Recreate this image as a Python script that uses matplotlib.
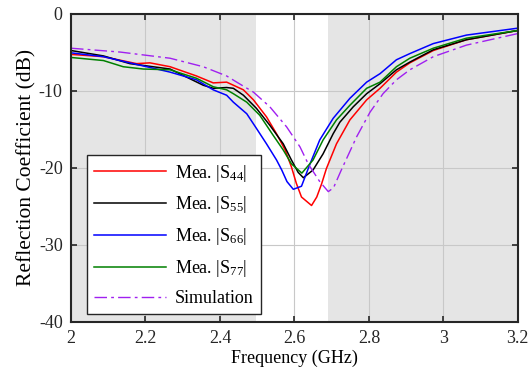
import matplotlib
matplotlib.use("Agg")
import matplotlib.pyplot as plt

plt.rcParams['font.family'] = ['Liberation Serif', 'DejaVu Serif']
plt.rcParams['mathtext.fontset'] = 'custom'
plt.rcParams['mathtext.rm'] = 'Liberation Serif'
plt.rcParams['mathtext.it'] = 'Liberation Serif:italic'
plt.rcParams['axes.unicode_minus'] = False

f_s44 = [2.0, 2.087, 2.176, 2.212, 2.266, 2.337, 2.382, 2.418, 2.427, 2.463, 2.49, 2.525, 2.552,
         2.575, 2.592, 2.605, 2.619, 2.646, 2.66, 2.673, 2.686, 2.713, 2.749, 2.794, 2.83, 2.874,
         2.91, 2.973, 3.062, 3.2]
s44 = [-5.3, -5.6, -6.5, -6.4, -6.9, -8.1, -9.0, -8.9, -9.1, -9.9, -11.2, -13.4, -15.6,
       -17.7, -19.9, -22.0, -23.8, -24.9, -23.8, -22.1, -20.1, -16.9, -13.8, -11.2, -9.7, -7.6,
       -6.4, -4.8, -3.4, -2.2]

f_s55 = [2.0, 2.087, 2.158, 2.266, 2.355, 2.382, 2.418, 2.436, 2.463, 2.498, 2.534, 2.57,
         2.592, 2.61, 2.624, 2.65, 2.677, 2.704, 2.722, 2.758, 2.794, 2.83, 2.874, 2.91, 2.973,
         3.062, 3.2]
s55 = [-4.8, -5.5, -6.5, -7.2, -9.3, -9.7, -9.6, -9.7, -10.6, -12.3, -14.5, -16.9,
       -19.0, -20.6, -21.3, -20.3, -18.2, -15.6, -14.1, -12.1, -10.4, -9.1, -7.3, -6.3, -4.7,
       -3.4, -2.2]

f_s66 = [2.0, 2.087, 2.176, 2.266, 2.337, 2.382, 2.418, 2.436, 2.472, 2.498, 2.525, 2.552,
         2.566, 2.58, 2.597, 2.619, 2.642, 2.668, 2.704, 2.749, 2.794, 2.83, 2.874, 2.91, 2.973,
         3.062, 3.2]
s66 = [-5.1, -5.6, -6.6, -7.6, -8.6, -9.9, -10.6, -11.5, -13.0, -14.9, -16.9, -19.0,
       -20.3, -21.8, -22.8, -22.4, -19.5, -16.4, -13.6, -11.0, -8.9, -7.8, -6.0, -5.2, -3.9,
       -2.8, -1.9]

f_s77 = [2.0, 2.087, 2.14, 2.194, 2.266, 2.337, 2.382, 2.418, 2.436, 2.472, 2.507, 2.543,
         2.57, 2.592, 2.62, 2.65, 2.677, 2.713, 2.749, 2.794, 2.83, 2.874, 2.91, 2.973, 3.062,
         3.2]
s77 = [-5.7, -6.1, -6.9, -7.2, -7.3, -8.4, -9.5, -9.9, -10.4, -11.5, -13.2, -15.8,
       -17.7, -19.5, -20.7, -19.0, -16.4, -13.8, -11.9, -9.7, -8.9, -6.9, -5.8, -4.5, -3.2,
       -2.2]

f_sim = [2.0, 2.132, 2.266, 2.355, 2.418, 2.445, 2.49, 2.534, 2.579, 2.615, 2.637, 2.668,
         2.691, 2.705, 2.725, 2.767, 2.803, 2.838, 2.874, 2.91, 2.973, 3.062, 3.2]
sim = [-4.5, -5.0, -5.8, -6.9, -8.1, -8.9, -10.2, -12.1, -14.7, -17.3, -19.5, -21.8,
       -23.1, -22.6, -20.4, -16.0, -12.8, -10.4, -8.6, -7.3, -5.6, -4.1, -2.6]

band = (2.496, 2.69)

fig = plt.figure(figsize=(5.3, 3.86), dpi=100)
ax = fig.add_axes([0.134, 0.166, 0.843, 0.799])

# shaded out-of-band regions
ax.axvspan(2.0, band[0], color="#e5e5e5", zorder=0, lw=0)
ax.axvspan(band[1], 3.2, color="#e5e5e5", zorder=0, lw=0)

ax.plot(f_s44, s44, color="red", lw=1.1, label=r"Mea. $|\mathrm{S}_{44}|$")
ax.plot(f_s55, s55, color="black", lw=1.1, label=r"Mea. $|\mathrm{S}_{55}|$")
ax.plot(f_s66, s66, color="blue", lw=1.1, label=r"Mea. $|\mathrm{S}_{66}|$")
ax.plot(f_s77, s77, color="green", lw=1.1, label=r"Mea. $|\mathrm{S}_{77}|$")
ax.plot(f_sim, sim, color="#a020f0", lw=1.0, ls=(0, (9, 3, 2, 3)), label="Simulation")

ax.set_xlim(2, 3.2)
ax.set_ylim(-40, 0)
ax.set_xticks([2, 2.2, 2.4, 2.6, 2.8, 3, 3.2])
ax.set_xticklabels(["2", "2.2", "2.4", "2.6", "2.8", "3", "3.2"])
ax.set_yticks([-40, -30, -20, -10, 0])
ax.tick_params(direction="in", top=True, right=True, labelsize=13, length=4, width=1.2,
               colors="#262626", pad=6)
ax.grid(True, color="#c8c8c8", lw=0.8)
ax.set_axisbelow(True)
for s in ax.spines.values():
    s.set_linewidth(1.5)
    s.set_color("#262626")

ax.set_xlabel("Frequency (GHz)", fontsize=13, labelpad=2)
ax.set_ylabel("Reflection Coefficient (dB)", fontsize=15.5, labelpad=2)

leg = ax.legend(loc="lower left", bbox_to_anchor=(0.035, 0.025), fontsize=13,
                handlelength=4.0, fancybox=False, framealpha=1, edgecolor="#262626",
                borderpad=0.4, labelspacing=0.6, handletextpad=0.5, borderaxespad=0)
leg.get_frame().set_linewidth(1.0)

fig.savefig("out.png", dpi=100)
